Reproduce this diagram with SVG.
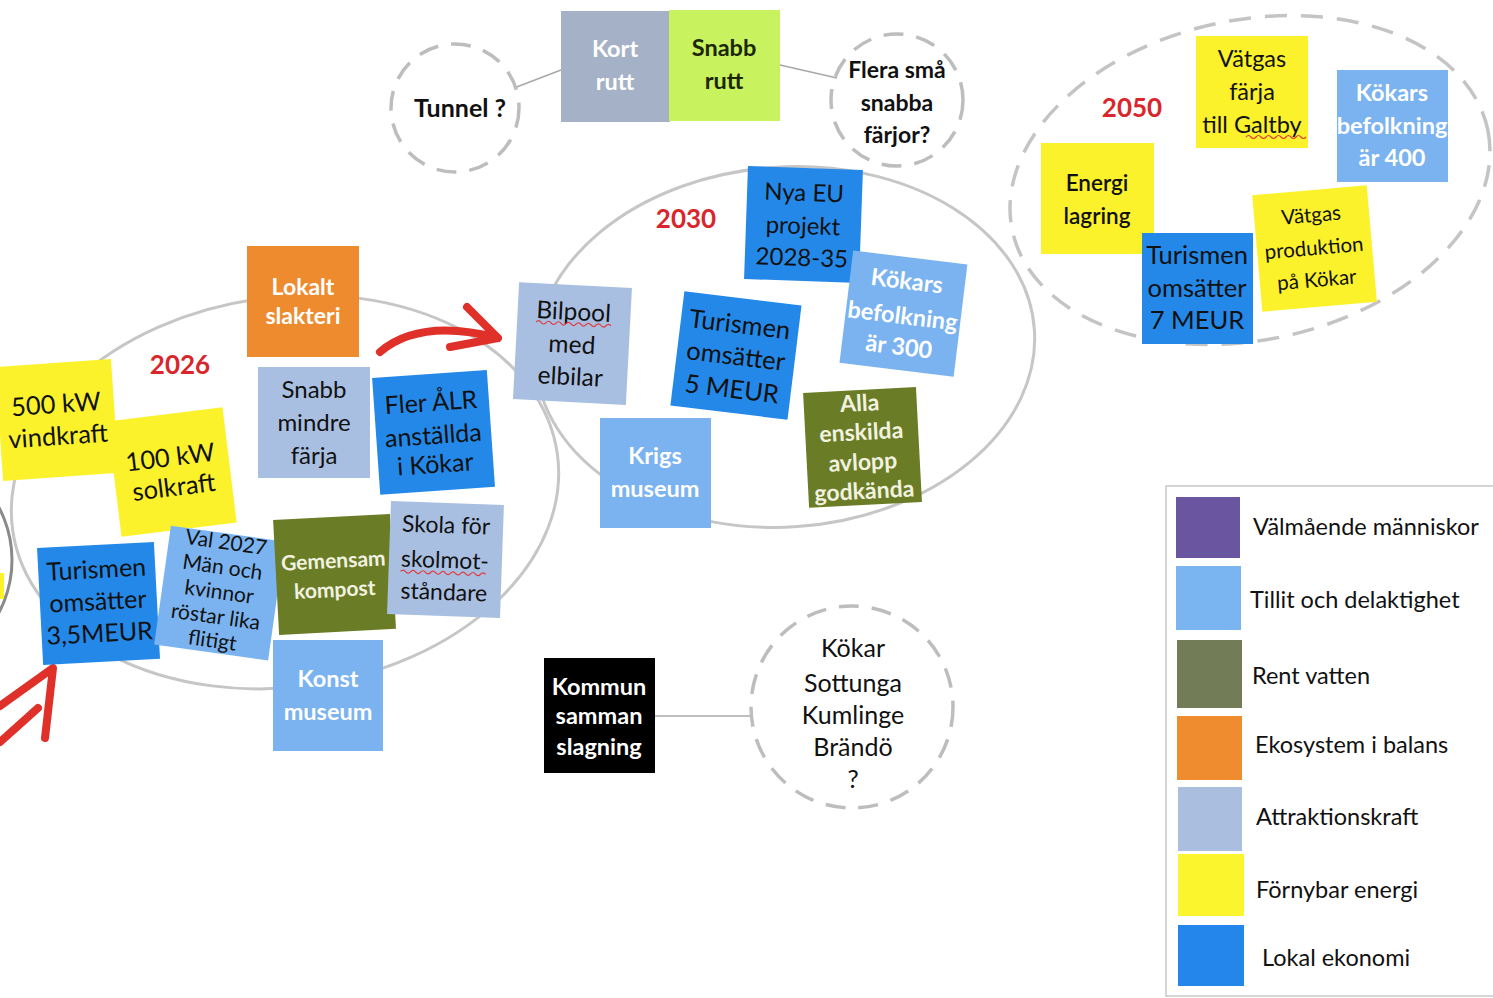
<svg xmlns="http://www.w3.org/2000/svg" width="1493" height="998" viewBox="0 0 1493 998">
<style>
text{font-family:Lato,"Open Sans","Liberation Sans",sans-serif;text-anchor:middle}
.t{fill:#111}
.w{font-weight:700;fill:#fff}
.wg{font-weight:700;fill:#f2f2e0}
.b{font-weight:700;fill:#111}
.yr{font-size:26px;font-weight:700;fill:#d9262c}
.lg{font-size:23.5px;fill:#111;text-anchor:start}
.ell{fill:none;stroke:#c6c6c6;stroke-width:3}
.dash{fill:none;stroke:#bdbdbd;stroke-width:3.5;stroke-dasharray:20 13}
.conn{stroke:#a8a8a8;stroke-width:1.5;fill:none}
.red{fill:none;stroke:#e0302a;stroke-width:8;stroke-linecap:round;stroke-linejoin:round}
.sq{fill:none;stroke:#e03a3a;stroke-width:1.2}
.Y{fill:#fbf22c}.B{fill:#2488e8}.L{fill:#7ab3f0}.A{fill:#a9bfe2}.O{fill:#ee8b2f}.G{fill:#6a7d26}
</style>
<rect width="1493" height="998" fill="#fff"/>

<g id="backgrounds">
<circle cx="-100" cy="560" r="112" fill="none" stroke="#8a8a8a" stroke-width="3"/>
<rect x="-10" y="573" width="14" height="26" class="Y"/>
<ellipse class="ell" cx="285" cy="492" rx="275" ry="195" transform="rotate(-8 285 492)"/>
<ellipse class="ell" cx="785" cy="347" rx="250" ry="180" transform="rotate(-4 785 347)"/>
<ellipse class="dash" cx="1250" cy="180" rx="243" ry="160" transform="rotate(-12 1250 180)" style="stroke-dasharray:22 14;stroke:#c4c4c4"/>
<text class="yr" x="180" y="374">2026</text>
<text class="yr" x="686" y="228">2030</text>
<text class="yr" x="1132" y="117">2050</text>
</g>

<g id="connectors">
<line class="conn" x1="514" y1="88" x2="561" y2="70"/>
<line class="conn" x1="780" y1="65" x2="837" y2="78"/>
<line class="conn" x1="655" y1="716" x2="750" y2="716"/>
<path class="red" d="M380,352 Q420,318 498,338 M467,307 L498,338 L450,347"/>
<path class="red" d="M0,706 L53,668 L45,738 M0,742 L38,708"/>
</g>

<g id="n-vind" transform="translate(57 420) rotate(-4)" font-size="25.5"><rect x="-58" y="-57" width="116" height="114" class="Y"/><text class="t" y="-7">500 kW</text><text class="t" y="25">vindkraft</text></g>
<g id="n-sol" transform="translate(172 472) rotate(-7)" font-size="25.5"><rect x="-58" y="-58" width="116" height="116" class="Y"/><text class="t" y="-6">100 kW</text><text class="t" y="24">solkraft</text></g>
<g id="n-slakteri" transform="translate(303 301)" font-size="23"><rect x="-56" y="-55" width="112" height="111" class="O"/><text class="w" y="-6">Lokalt</text><text class="w" y="23">slakteri</text></g>
<g id="n-snabbfarja" transform="translate(314 422)" font-size="24"><rect x="-56" y="-55" width="112" height="111" class="A"/><text class="t" y="-24">Snabb</text><text class="t" y="9">mindre</text><text class="t" y="42">färja</text></g>
<g id="n-alr" transform="translate(433 432) rotate(-4)" font-size="25"><rect x="-57" y="-58" width="115" height="117" class="B"/><text class="t" y="-21">Fler ÅLR</text><text class="t" y="12">anställda</text><text class="t" y="41">i Kökar</text></g>
<g id="n-tur35" transform="translate(98 603) rotate(-3)" font-size="25"><rect x="-58" y="-58" width="117" height="117" class="B"/><text class="t" y="-25">Turismen</text><text class="t" y="7">omsätter</text><text class="t" y="39">3,5MEUR</text></g>
<g id="n-val" transform="translate(219 593) rotate(8)" font-size="21"><rect x="-57" y="-60" width="115" height="120" class="L"/><text class="t" y="-44">Val 2027</text><text class="t" y="-19">Män och</text><text class="t" y="6">kvinnor</text><text class="t" y="31">röstar lika</text><text class="t" y="55">flitigt</text></g>
<g id="n-kompost" transform="translate(334 574) rotate(-3)" font-size="21"><rect x="-58" y="-57" width="117" height="115" class="G"/><text class="wg" y="-6">Gemensam</text><text class="wg" y="23">kompost</text></g>
<g id="n-skola" transform="translate(445 559) rotate(2)" font-size="23"><rect x="-56" y="-56" width="113" height="113" class="A"/><text class="t" y="-26">Skola för</text><text class="t" y="9">skolmot-</text><text class="t" y="41">ståndare</text><path class="sq" d="M-44,14 q2.5,-3 5,0 t5,0 t5,0 t5,0 t5,0 t5,0 t5,0 t5,0 t5,0 t5,0 t5,0 t5,0 t5,0 t5,0 t5,0 t5,0 t5,0"/></g>
<g id="n-konst" transform="translate(328 696)" font-size="23.5"><rect x="-55" y="-56" width="110" height="111" class="L"/><text class="w" y="-9">Konst</text><text class="w" y="24">museum</text></g>

<g id="n-nyaeu" transform="translate(803 224) rotate(2)" font-size="24"><rect x="-57" y="-56" width="115" height="113" class="B"/><text class="t" y="-23">Nya EU</text><text class="t" y="10">projekt</text><text class="t" y="42">2028-35</text></g>
<g id="n-bilpool" transform="translate(572 343) rotate(3)" font-size="24.5"><rect x="-56" y="-58" width="113" height="117" class="A"/><text class="t" y="-23">Bilpool</text><text class="t" y="10">med</text><text class="t" y="42">elbilar</text><path class="sq" d="M-37,-19 q2.5,-3 5,0 t5,0 t5,0 t5,0 t5,0 t5,0 t5,0 t5,0 t5,0 t5,0 t5,0 t5,0 t5,0 t5,0 t5,0"/></g>
<g id="n-tur5" transform="translate(736 355) rotate(7)" font-size="25.5"><rect x="-59" y="-57" width="118" height="115" class="B"/><text class="t" y="-22">Turismen</text><text class="t" y="10">omsätter</text><text class="t" y="43">5 MEUR</text></g>
<g id="n-kok300" transform="translate(903 313) rotate(7)" font-size="23.5"><rect x="-57" y="-56" width="115" height="113" class="L"/><text class="w" y="-24">Kökars</text><text class="w" y="11">befolkning</text><text class="w" y="42">är 300</text></g>
<g id="n-krigs" transform="translate(655 473)" font-size="23.5"><rect x="-55" y="-55" width="111" height="110" class="L"/><text class="w" y="-9">Krigs</text><text class="w" y="24">museum</text></g>
<g id="n-avlopp" transform="translate(862 447) rotate(-3)" font-size="23"><rect x="-56" y="-57" width="113" height="115" class="G"/><text class="wg" y="-36">Alla</text><text class="wg" y="-7">enskilda</text><text class="wg" y="23">avlopp</text><text class="wg" y="52">godkända</text></g>

<g id="n-vatgasfarja" transform="translate(1252 92)" font-size="23.5"><rect x="-56" y="-56" width="112" height="112" class="Y"/><text class="t" y="-25">Vätgas</text><text class="t" y="8">färja</text><text class="t" y="41">till Galtby</text><path class="sq" d="M-6,45 q2.5,-3 5,0 t5,0 t5,0 t5,0 t5,0 t5,0 t5,0 t5,0 t5,0 t5,0 t5,0 t5,0"/></g>
<g id="n-kok400" transform="translate(1392 126)" font-size="23.5"><rect x="-55" y="-56" width="111" height="112" class="L"/><text class="w" y="-25">Kökars</text><text class="w" y="8">befolkning</text><text class="w" y="40">är 400</text></g>
<g id="n-energi" transform="translate(1097 198)" font-size="22.5"><rect x="-56" y="-55" width="113" height="111" class="Y"/><text class="t" style="font-weight:600" y="-7">Energi</text><text class="t" style="font-weight:600" y="26">lagring</text></g>
<g id="n-tur7" transform="translate(1197 288)" font-size="25.5"><rect x="-55" y="-55" width="111" height="111" class="B"/><text class="t" y="-24">Turismen</text><text class="t" y="9">omsätter</text><text class="t" y="41">7 MEUR</text></g>
<g id="n-vatgasprod" transform="translate(1314 248) rotate(-5)" font-size="20.5"><rect x="-57" y="-58" width="115" height="117" class="Y"/><text class="t" y="-26">Vätgas</text><text class="t" y="7">produktion</text><text class="t" y="39">på Kökar</text></g>

<g id="n-kort" transform="translate(615 66)" font-size="23.5"><rect x="-54" y="-55" width="109" height="111" fill="#a5b1c7"/><text class="w" y="-9">Kort</text><text class="w" y="24">rutt</text></g>
<g id="n-snabbrutt" transform="translate(724 65)" font-size="23.5"><rect x="-55" y="-55" width="111" height="111" fill="#c8f25e"/><text class="w" style="fill:#1c2608" y="-9">Snabb</text><text class="w" style="fill:#1c2608" y="24">rutt</text></g>
<g id="n-tunnel"><circle class="dash" cx="455" cy="108" r="64"/><text class="b" font-size="25" x="460" y="117">Tunnel ?</text></g>
<g id="n-flera" font-size="23"><circle class="dash" cx="897" cy="100" r="66"/><text class="b" x="897" y="78">Flera små</text><text class="b" x="897" y="111">snabba</text><text class="b" x="897" y="143">färjor?</text></g>

<g id="n-kommun" transform="translate(599 715)" font-size="23.5"><rect x="-55" y="-57" width="111" height="115" fill="#000"/><text class="w" y="-20">Kommun</text><text class="w" y="9">samman</text><text class="w" y="40">slagning</text></g>
<g id="n-kommuner" font-size="25"><circle class="dash" cx="852" cy="707" r="101"/><text class="t" x="853" y="657">Kökar</text><text class="t" x="853" y="692">Sottunga</text><text class="t" x="853" y="724">Kumlinge</text><text class="t" x="853" y="756">Brändö</text><text class="t" x="853" y="788">?</text></g>

<g id="legend">
<rect x="1166" y="486" width="340" height="510" fill="#fff" stroke="#c8c8c8" stroke-width="1.5"/>
<rect x="1176" y="497" width="64" height="61" fill="#6a55a0"/><text class="lg" x="1253" y="535">Välmående människor</text>
<rect x="1176" y="566" width="65" height="64" fill="#7ab5f2"/><text class="lg" x="1250" y="608">Tillit och delaktighet</text>
<rect x="1177" y="640" width="65" height="68" fill="#727d58"/><text class="lg" x="1252" y="684">Rent vatten</text>
<rect x="1177" y="716" width="65" height="64" fill="#ef8c30"/><text class="lg" x="1255" y="753">Ekosystem i balans</text>
<rect x="1178" y="787" width="64" height="64" fill="#aabfe0"/><text class="lg" x="1256" y="825">Attraktionskraft</text>
<rect x="1178" y="854" width="66" height="62" fill="#fbf52d"/><text class="lg" x="1256" y="898">Förnybar energi</text>
<rect x="1178" y="925" width="66" height="61" fill="#2486ea"/><text class="lg" x="1262" y="966">Lokal ekonomi</text>
</g>
</svg>
